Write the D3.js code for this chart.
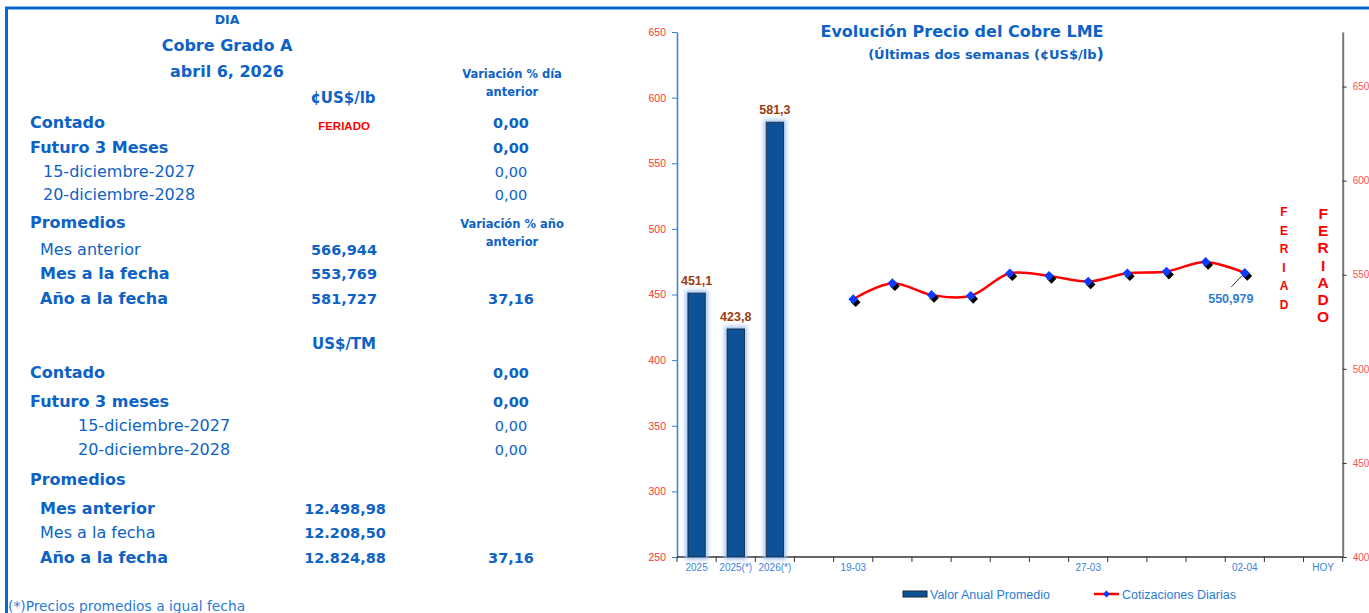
<!DOCTYPE html>
<html>
<head>
<meta charset="utf-8">
<script src="https://cdn.jsdelivr.net/npm/d3@7"></script>
<style>
  html, body { margin: 0; padding: 0; background: #fff; }
  svg { display: block; }
</style>
</head>
<body>
<div id="sheet"></div>
<script>
// ---- data ----
var categories = ["2025", "2025(*)", "2026(*)", "gap", "19-03", "20-03", "23-03", "24-03", "25-03",
    "26-03", "27-03", "30-03", "31-03", "01-04", "02-04", "03-04", "HOY"];
var shownLabels = ["2025", "2025(*)", "2026(*)", "19-03", "27-03", "02-04", "HOY"];

var barCategories = ["2025", "2025(*)", "2026(*)"];
var barValues = [451.1, 423.8, 581.3];

var lineDates = ["19-03", "20-03", "23-03", "24-03", "25-03", "26-03", "27-03", "30-03", "31-03", "01-04", "02-04"];
var lineValues = [537.0, 545.5, 539.3, 538.8, 550.8, 549.4, 546.4, 550.8, 551.7, 556.8, 550.979];

var holidayDates = ["03-04", "HOY"];
var holidayTexts = ["FERIAD", "FERIADO"];

var leftTicks = [250, 300, 350, 400, 450, 500, 550, 600, 650];
var rightTicks = [400, 450, 500, 550, 600, 650];

var chartTitle = "Evolución Precio del Cobre LME";
var chartSubtitle = "(Últimas dos semanas (¢US$/lb";
var legendNames = ["Valor Anual Promedio", "Cotizaciones Diarias"];

// table
var tableHead = ["DIA", "Cobre Grado A", "abril 6, 2026"];
var lbUnit = "¢US$/lb";
var lbLabels = ["Contado", "Futuro 3 Meses", "15-diciembre-2027", "20-diciembre-2028", "Promedios",
    "Mes anterior", "Mes a la fecha", "Año a la fecha"];
var lbValues = ["FERIADO", "", "", "", "", "566,944", "553,769", "581,727"];
var lbPct = ["0,00", "0,00", "0,00", "0,00", "", "", "", "37,16"];
var tmUnit = "US$/TM";
var tmLabels = ["Contado", "Futuro 3 meses", "15-diciembre-2027", "20-diciembre-2028", "Promedios",
    "Mes anterior", "Mes a la fecha", "Año a la fecha"];
var tmValues = ["", "", "", "", "", "12.498,98", "12.208,50", "12.824,88"];
var tmPct = ["0,00", "0,00", "0,00", "0,00", "", "", "", "37,16"];
var pctHeadDay = ["Variación % día", "anterior"];
var pctHeadYear = ["Variación % año", "anterior"];
var footNote = "(*)Precios promedios a igual fecha";

// ---- drawing ----
var W = 1369, H = 613;
var blue = "#0d62c6";
var tableFont = "'DejaVu Sans', Verdana, sans-serif";
var arial = "'Liberation Sans', Arial, sans-serif";

var svg = d3.select("#sheet").append("svg")
    .attr("width", W)
    .attr("height", H);

var defs = svg.append("defs");
var glow = defs.append("filter").attr("id", "glow")
    .attr("x", "-50%").attr("y", "-10%").attr("width", "200%").attr("height", "120%");
glow.append("feMorphology").attr("in", "SourceAlpha").attr("operator", "dilate").attr("radius", 2).attr("result", "d");
glow.append("feGaussianBlur").attr("in", "d").attr("stdDeviation", 2).attr("result", "b");
glow.append("feFlood").attr("flood-color", "#9fc2f2").attr("result", "c");
glow.append("feComposite").attr("in", "c").attr("in2", "b").attr("operator", "in").attr("result", "s");
var gm = glow.append("feMerge");
gm.append("feMergeNode").attr("in", "s");
gm.append("feMergeNode").attr("in", "SourceGraphic");

// frame
svg.append("line").attr("x1", 5).attr("x2", W).attr("y1", 8).attr("y2", 8)
    .attr("stroke", "#0a66cc").attr("stroke-width", 3);
svg.append("line").attr("x1", 6.5).attr("x2", 6.5).attr("y1", 7).attr("y2", H)
    .attr("stroke", "#0a66cc").attr("stroke-width", 3);

// ---- table ----
var tg = svg.append("g").attr("fill", blue).attr("font-family", tableFont);

function txt(g, s, x, y, size, weight, anchor, color) {
    return g.append("text").attr("x", x).attr("y", y)
        .attr("font-size", size).attr("font-weight", weight || "normal")
        .attr("text-anchor", anchor || "start")
        .attr("fill", color || blue)
        .text(s);
}

txt(tg, tableHead[0], 227, 24, 12.5, "bold", "middle");
txt(tg, tableHead[1], 227, 51, 16, "bold", "middle");
txt(tg, tableHead[2], 227, 77, 16, "bold", "middle");
txt(tg, lbUnit, 343, 103, 15, "bold", "middle");
txt(tg, pctHeadDay[0], 512, 78, 11.5, "bold", "middle");
txt(tg, pctHeadDay[1], 512, 96, 11.5, "bold", "middle");
txt(tg, pctHeadYear[0], 512, 228, 11.5, "bold", "middle");
txt(tg, pctHeadYear[1], 512, 246, 11.5, "bold", "middle");
txt(tg, tmUnit, 344, 349, 15, "bold", "middle");

var lbY = [128, 153, 177, 200, 228, 255, 279, 304];
var lbX = [30, 30, 43, 43, 30, 40, 40, 40];
var lbBold = [true, true, false, false, true, false, true, true];
lbLabels.forEach(function (s, i) {
    txt(tg, s, lbX[i], lbY[i], 16, lbBold[i] ? "bold" : "normal");
    if (lbValues[i] == "FERIADO") {
        txt(tg, lbValues[i], 344, lbY[i] + 2, 11.5, "bold", "middle", "#ff0000").attr("font-family", arial);
    } else if (lbValues[i] != "") {
        txt(tg, lbValues[i], 344, lbY[i], 14.5, "bold", "middle");
    }
    if (lbPct[i] != "") {
        txt(tg, lbPct[i], 511, lbY[i], 14.5, lbBold[i] ? "bold" : "normal", "middle");
    }
});

var tmY = [378, 407, 431, 455, 485, 514, 538, 563];
var tmX = [30, 30, 78, 78, 30, 40, 40, 40];
var tmBold = [true, true, false, false, true, true, false, true];
tmLabels.forEach(function (s, i) {
    txt(tg, s, tmX[i], tmY[i], 16, tmBold[i] ? "bold" : "normal");
    if (tmValues[i] != "") {
        txt(tg, tmValues[i], 345, tmY[i], 14.5, "bold", "middle");
    }
    if (tmPct[i] != "") {
        txt(tg, tmPct[i], 511, tmY[i], 14.5, (tmBold[i] || i == 7) ? "bold" : "normal", "middle");
    }
});

txt(tg, footNote, 8, 611, 13.8, "normal", "start", "#2a7ad6");

// ---- chart ----
var x = d3.scaleBand().domain(categories).range([677, 1342.7]).padding(0);
var yL = d3.scaleLinear().domain([250, 650]).range([557, 32]);
var yR = d3.scaleLinear().domain([400, 679]).range([557, 32]);

var cg = svg.append("g");

// title
cg.append("text").attr("x", 962).attr("y", 37)
    .attr("text-anchor", "middle").attr("font-family", tableFont)
    .attr("font-size", 16).attr("font-weight", "bold").attr("fill", blue)
    .text(chartTitle);
var sub = cg.append("text").attr("x", 986).attr("y", 59)
    .attr("text-anchor", "middle").attr("font-family", tableFont)
    .attr("font-size", 13).attr("font-weight", "bold").attr("fill", blue)
    .text(chartSubtitle);
sub.append("tspan").attr("font-size", 16).text(")");

// left axis
var axL = cg.append("g").attr("transform", "translate(677,0)")
    .call(d3.axisLeft(yL).tickValues(leftTicks).tickSize(5).tickSizeOuter(0).tickPadding(6));
axL.select(".domain").attr("stroke", "#3b7fd4").attr("stroke-width", 1.5);
axL.selectAll(".tick line").attr("stroke", "#3b7fd4");
axL.selectAll(".tick text").attr("fill", "#ff3333").attr("font-family", arial).attr("font-size", 10.5);

// right axis
var axR = cg.append("g").attr("transform", "translate(1342.7,0)")
    .call(d3.axisRight(yR).tickValues(rightTicks).tickSize(4).tickSizeOuter(0).tickPadding(6));
axR.select(".domain").attr("stroke", "#777").attr("stroke-width", 2);
axR.selectAll(".tick line").attr("stroke", "#333");
axR.selectAll(".tick text").attr("fill", "#ff5050").attr("font-family", arial).attr("font-size", 10);

// bottom axis
var bottom = cg.append("g").attr("transform", "translate(0,557)");
var axB = bottom.call(d3.axisBottom(x).tickSize(0).tickPadding(7)
    .tickFormat(function (d) { return shownLabels.indexOf(d) >= 0 ? d : ""; }));
axB.select(".domain").remove();
axB.selectAll(".tick text").attr("fill", "#3a7fd8").attr("font-family", arial).attr("font-size", 10);
bottom.append("line").attr("x1", x.range()[0]).attr("x2", x.range()[1])
    .attr("stroke", "#333").attr("stroke-width", 1.5);
bottom.selectAll(".btick").data(d3.range(categories.length + 1)).enter()
    .append("line").attr("class", "btick")
    .attr("x1", function (i) { return x.range()[0] + i * x.step(); })
    .attr("x2", function (i) { return x.range()[0] + i * x.step(); })
    .attr("y1", 0).attr("y2", 5)
    .attr("stroke", "#333").attr("stroke-width", 1);

// bars
var bw = x.bandwidth() * 0.445;
cg.selectAll(".bar").data(barValues).enter().append("rect")
    .attr("class", "bar")
    .attr("x", function (d, i) { return x(barCategories[i]) + x.bandwidth() / 2 - bw / 2; })
    .attr("y", function (d) { return yL(d); })
    .attr("width", bw)
    .attr("height", function (d) { return yL(250) - yL(d); })
    .attr("fill", "#0d5196")
    .attr("stroke", "#16263c")
    .attr("stroke-width", 1)
    .attr("filter", "url(#glow)");
cg.selectAll(".barlab").data(barValues).enter().append("text")
    .attr("x", function (d, i) { return x(barCategories[i]) + x.bandwidth() / 2; })
    .attr("y", function (d) { return yL(d) - 8; })
    .attr("text-anchor", "middle")
    .attr("font-family", arial).attr("font-size", 12.5).attr("font-weight", "bold")
    .attr("fill", "#9a3d0e")
    .text(function (d) { return d3.format(".1f")(d).replace(".", ","); });

// line
var pts = lineValues.map(function (v, i) {
    return [x(lineDates[i]) + x.bandwidth() / 2, yR(v)];
});
cg.append("path").datum(pts)
    .attr("d", d3.line().curve(d3.curveCatmullRom.alpha(0.5)))
    .attr("fill", "none").attr("stroke", "#ff0000").attr("stroke-width", 2.5);

var diamond = d3.symbol().type(d3.symbolDiamond2).size(60);
cg.selectAll(".mshadow").data(pts).enter().append("path")
    .attr("d", diamond)
    .attr("transform", function (p) { return "translate(" + (p[0] + 2.5) + "," + (p[1] + 3) + ")"; })
    .attr("fill", "#000");
cg.selectAll(".marker").data(pts).enter().append("path")
    .attr("d", diamond)
    .attr("transform", function (p) { return "translate(" + p[0] + "," + p[1] + ")"; })
    .attr("fill", "#0a3cff");

// last value callout
var last = pts[pts.length - 1];
cg.append("line")
    .attr("x1", last[0] - 2.5).attr("y1", last[1] + 2.5)
    .attr("x2", last[0] - 13.5).attr("y2", last[1] + 14)
    .attr("stroke", "#000").attr("stroke-width", 0.8);
cg.append("text").attr("x", last[0] - 14).attr("y", last[1] + 30)
    .attr("text-anchor", "middle")
    .attr("font-family", arial).attr("font-size", 12.5).attr("font-weight", "bold")
    .attr("fill", "#2e80d4")
    .text(d3.format(".3f")(lineValues[lineValues.length - 1]).replace(".", ","));

// holiday texts
var holSize = [12, 15.5];
var holTop = [216, 219];
var holStep = [18.5, 17.2];
holidayDates.forEach(function (d, k) {
    var cx = x(d) + x.bandwidth() / 2;
    holidayTexts[k].split("").forEach(function (ch, j) {
        cg.append("text").attr("x", cx).attr("y", holTop[k] + j * holStep[k])
            .attr("text-anchor", "middle")
            .attr("font-family", arial).attr("font-size", holSize[k]).attr("font-weight", "bold")
            .attr("fill", "#ff0000")
            .text(ch);
    });
});

// legend
var lg = cg.append("g").attr("font-family", arial).attr("font-size", 12.5).attr("fill", "#2a7bd6");
lg.append("rect").attr("x", 903).attr("y", 591).attr("width", 24).attr("height", 6)
    .attr("fill", "#0d5196").attr("stroke", "#16263c");
lg.append("text").attr("x", 930).attr("y", 599).text(legendNames[0]);
lg.append("line").attr("x1", 1094).attr("x2", 1119).attr("y1", 594).attr("y2", 594)
    .attr("stroke", "#ff0000").attr("stroke-width", 2.5);
lg.append("path").attr("d", d3.symbol().type(d3.symbolDiamond2).size(30))
    .attr("transform", "translate(1106.5,594)").attr("fill", "#0a3cff");
lg.append("text").attr("x", 1122).attr("y", 599).text(legendNames[1]);
</script>
</body>
</html>
